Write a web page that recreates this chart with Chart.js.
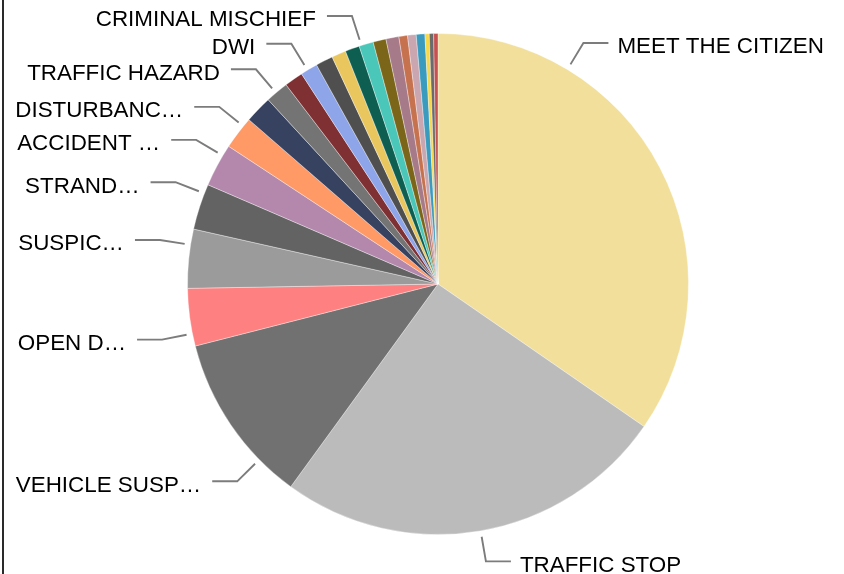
<!DOCTYPE html>
<html>
<head>
<meta charset="utf-8">
<script src="https://cdn.jsdelivr.net/npm/chart.js@4.4.1/dist/chart.umd.min.js"></script>
<style>
  html, body { margin: 0; padding: 0; background: #fff; }
  #wrap { position: relative; width: 844px; height: 574px; overflow: hidden; }
  #frame { position: absolute; left: 2px; top: 0; width: 2px; height: 574px; background: #2a2a2a; }
</style>
</head>
<body>
<div id="wrap">
  <canvas id="chart" width="844" height="574"></canvas>
  <div id="frame"></div>
</div>
<script>
// call types, clockwise from 12 o'clock (empty = slice shown without a label)
const categories = [
  'MEET THE CITIZEN', 'TRAFFIC STOP', 'VEHICLE SUSP\u2026', 'OPEN D\u2026', 'SUSPIC\u2026',
  'STRAND\u2026', 'ACCIDENT \u2026', 'DISTURBANC\u2026', '', 'TRAFFIC HAZARD',
  '', 'DWI', '', '', '', 'CRIMINAL MISCHIEF', '', '', '', '', '', '', '', ''
];

const counts = [374, 274, 119, 40, 41, 32, 30, 23, 19, 16, 13, 12, 12, 10, 10, 10, 9, 9, 6, 6, 6, 3, 3, 3];

const sliceColors = [
  '#F1DF9B', '#BBBBBB', '#717171', '#FF8080', '#9B9B9B',
  '#636363', '#B388AC', '#FF9966', '#374260', '#747474',
  '#7E3033', '#8EA5EA', '#4F4F4F', '#E9C75E', '#0F5E52',
  '#4BC7B9', '#7A6519', '#A77A89', '#C6724F', '#C9A6B0',
  '#3A9BBE', '#F6D84D', '#6B6B6B', '#C75050'
];

// angle (degrees clockwise from top) where each label's leader leaves the pie
const leaderAngles = {
  0: 31.1, 1: 170.2, 2: 225.5, 3: 258.6, 4: 279, 5: 291.2,
  6: 300.8, 7: 309, 9: 319.7, 11: 328.6, 15: 342.2
};

const leaderLabels = {
  id: 'leaderLabels',
  afterDatasetsDraw(chart, args, opts) {
    const ctx = chart.ctx;
    const meta = chart.getDatasetMeta(0);
    const labels = chart.data.labels;
    ctx.save();
    ctx.font = opts.font;
    ctx.fillStyle = opts.color;
    ctx.strokeStyle = opts.lineColor;
    ctx.lineWidth = opts.lineWidth;
    meta.data.forEach((arc, i) => {
      if (!labels[i]) return;
      const r = arc.outerRadius;
      let deg = opts.angles[i];
      if (deg === undefined) {
        deg = ((arc.startAngle + arc.endAngle) / 2 + Math.PI / 2) * 180 / Math.PI;
      }
      const a = deg * Math.PI / 180;
      const sx = Math.sin(a), sy = -Math.cos(a);
      const p0 = { x: arc.x + (r + 6) * sx, y: arc.y + (r + 6) * sy };
      const p1 = { x: arc.x + (r + 31) * sx, y: arc.y + (r + 31) * sy };
      const right = sx >= 0;
      const p2 = { x: p1.x + (right ? 25 : -25), y: p1.y };
      ctx.beginPath();
      ctx.moveTo(p0.x, p0.y);
      ctx.lineTo(p1.x, p1.y);
      ctx.lineTo(p2.x, p2.y);
      ctx.stroke();
      ctx.textAlign = right ? 'left' : 'right';
      ctx.textBaseline = 'alphabetic';
      ctx.fillText(labels[i], p2.x + (right ? 9 : -11), p1.y + 10.5);
    });
    ctx.restore();
  }
};

new Chart(document.getElementById('chart'), {
  type: 'pie',
  data: {
    labels: categories,
    datasets: [{
      data: counts,
      backgroundColor: sliceColors,
      borderColor: 'rgba(255,255,255,0.35)',
      borderWidth: 1
    }]
  },
  options: {
    responsive: false,
    animation: false,
    layout: {
      padding: { left: 187, right: 155, top: 33, bottom: 39 }
    },
    plugins: {
      legend: { display: false },
      tooltip: { enabled: false },
      leaderLabels: {
        angles: leaderAngles,
        font: '22.4px "Liberation Sans", Arial, sans-serif',
        color: '#000',
        lineColor: '#7c7c7c',
        lineWidth: 1.9
      }
    }
  },
  plugins: [leaderLabels]
});
</script>
</body>
</html>
